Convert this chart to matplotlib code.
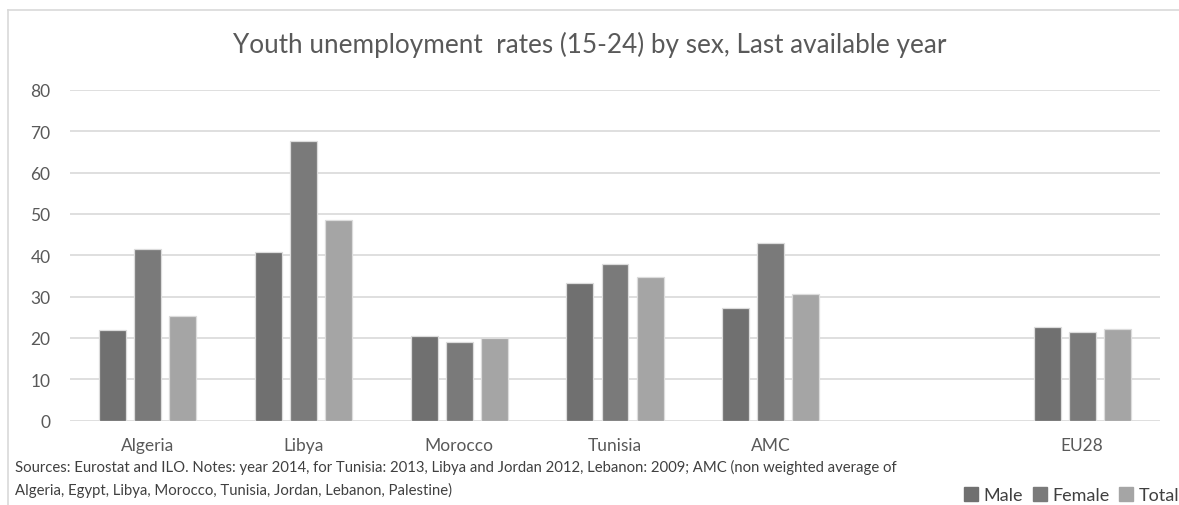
import numpy as np
import matplotlib
matplotlib.use("Agg")
import matplotlib.pyplot as plt
from matplotlib.lines import Line2D

plt.rcParams['font.family'] = ['Lato', 'DejaVu Sans']

categories = ["Algeria", "Libya", "Morocco", "Tunisia", "AMC", "", "EU28"]
male = [22.0, 40.7, 20.4, 33.4, 27.2, np.nan, 22.7]
female = [41.4, 67.7, 19.1, 37.9, 42.9, np.nan, 21.5]
total = [25.3, 48.5, 20.0, 34.8, 30.5, np.nan, 22.2]
series_names = ["Male", "Female", "Total"]
colors = ["#707070", "#7a7a7a", "#a5a5a5"]
yticks = [0, 10, 20, 30, 40, 50, 60, 70, 80]

title = "Youth unemployment  rates (15-24) by sex, Last available year"
note = ("Sources: Eurostat and ILO. Notes: year 2014, for Tunisia: 2013, Libya and Jordan 2012, "
        "Lebanon: 2009; AMC (non weighted average of\n"
        "Algeria, Egypt, Libya, Morocco, Tunisia, Jordan, Lebanon, Palestine)")

W, H = 1179, 506
fig = plt.figure(figsize=(W / 100, H / 100), dpi=100)
ax = fig.add_axes([70 / W, (H - 421.5) / H, (1160 - 70) / W, (421.5 - 91) / H])

x = np.arange(len(categories))
width = 0.173
step = 0.225
for i, (vals, c) in enumerate(zip([male, female, total], colors)):
    ax.bar(x + (i - 1) * step, vals, width, color=c, edgecolor="#dcdcdc", linewidth=0.9, zorder=3)

ax.set_xlim(-0.5, 6.5)
ax.set_ylim(0, 80)
ax.set_yticks(yticks)
ax.set_xticks(x)
ax.set_xticklabels(categories)
ax.grid(axis="y", color="#d9d9d9", linewidth=1.2, zorder=0)
for s in ax.spines.values():
    s.set_visible(False)
ax.tick_params(length=0, colors="#595959", labelsize=12.5)
ax.tick_params(axis="y", pad=14)
ax.tick_params(axis="x", pad=12)

fig.text(590 / W, 1 - 45 / H, title, ha="center", va="center", fontsize=18.8, color="#595959")
fig.text(15 / W, 1 - 479 / H, note, ha="left", va="center", fontsize=10.7, color="#404040",
         linespacing=1.6)

handles = [Line2D([], [], marker="s", linestyle="none", markersize=10, color=c) for c in colors]
fig.legend(handles, series_names, loc="center right", bbox_to_anchor=(1.0, 1 - 496 / H),
           ncol=3, frameon=False, fontsize=13, handlelength=0.8, handletextpad=0.3,
           columnspacing=0.5, labelcolor="#404040", borderpad=0, borderaxespad=0)

# chart frame
fig.add_artist(Line2D([8 / W, 8 / W], [0, 1 - 11 / H], color="#d9d9d9", linewidth=1.2))
fig.add_artist(Line2D([8 / W, 1], [1 - 11 / H, 1 - 11 / H], color="#d9d9d9", linewidth=1.2))

fig.savefig("out.png", dpi=100)
